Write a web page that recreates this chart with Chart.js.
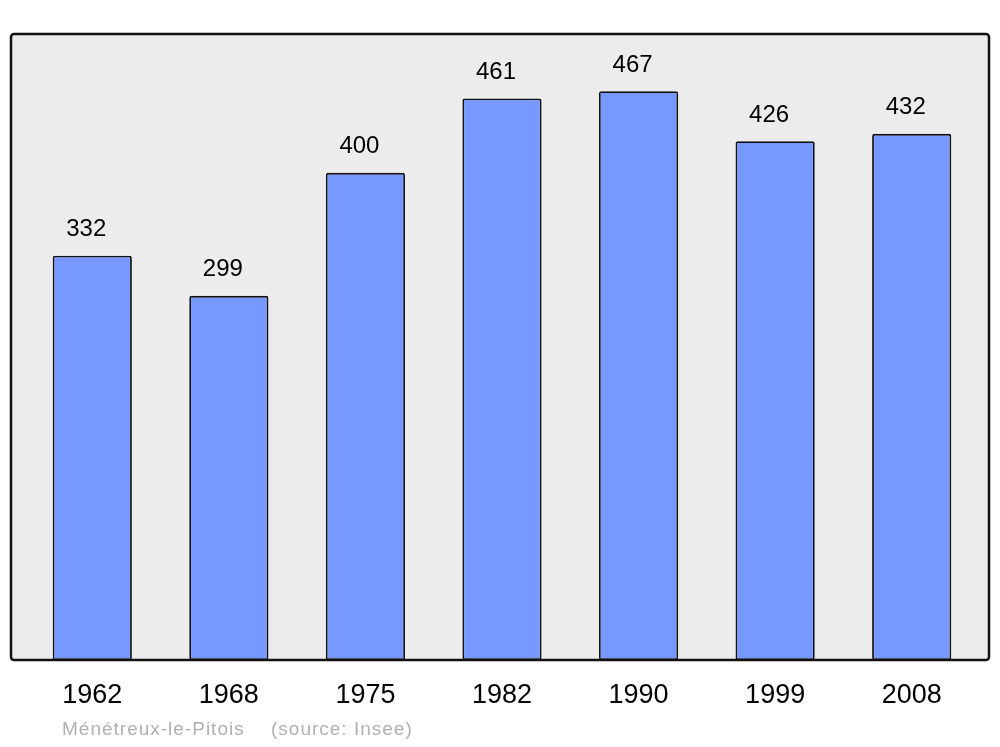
<!DOCTYPE html>
<html>
<head>
<meta charset="utf-8">
<script src="https://cdn.jsdelivr.net/npm/chart.js@4/dist/chart.umd.min.js"></script>
<style>
  html, body { margin: 0; padding: 0; background: #ffffff; }
  #wrap { width: 1000px; height: 747px; position: relative; }
</style>
</head>
<body>
<div id="wrap"><canvas id="popChart" width="1000" height="747"></canvas></div>
<script>
// population per census year
var years = ["1962", "1968", "1975", "1982", "1990", "1999", "2008"];
var population = [332, 299, 400, 461, 467, 426, 432];
var placeName = "Ménétreux-le-Pitois";
var sourceText = "(source: Insee)";

// grey box behind the bars
var boxPlugin = {
  id: "box",
  beforeDatasetsDraw: function (chart) {
    var ctx = chart.ctx;
    var a = chart.chartArea;
    var x0 = a.left - 13, x1 = a.right + 9;
    var y0 = a.top, y1 = a.bottom;
    ctx.save();
    ctx.beginPath();
    ctx.roundRect(x0, y0, x1 - x0, y1 - y0, 3);
    ctx.fillStyle = "#ececec";
    ctx.fill();
    ctx.lineWidth = 2.5;
    ctx.strokeStyle = "#111111";
    ctx.stroke();
    ctx.restore();
  }
};

// numbers above bars + footer text
var labelPlugin = {
  id: "labels",
  afterDatasetsDraw: function (chart) {
    var ctx = chart.ctx;
    var meta = chart.getDatasetMeta(0);
    ctx.save();
    ctx.font = "24px 'Liberation Sans', Arial, sans-serif";
    ctx.fillStyle = "#000000";
    ctx.textAlign = "center";
    ctx.textBaseline = "middle";
    for (var i = 0; i < meta.data.length; ++i) {
      var bar = meta.data[i];
      ctx.fillText(String(population[i]), bar.x - 6, bar.y - 26);
    }
    ctx.font = "19px 'Liberation Sans', Arial, sans-serif";
    ctx.letterSpacing = "1px";
    ctx.fillStyle = "#b0b0b0";
    ctx.textAlign = "left";
    ctx.fillText(placeName, 62, 730);
    ctx.fillText(sourceText, 271, 730);
    ctx.restore();
  }
};

var ctx = document.getElementById("popChart");
var popChart = new Chart(ctx, {
  type: "bar",
  data: {
    labels: years,
    datasets: [{
      data: population,
      backgroundColor: "#7799ff",
      borderColor: "#111111",
      borderWidth: 1.8,
      borderRadius: 2,
      borderSkipped: false,
      barPercentage: 0.58,
      categoryPercentage: 1.0
    }]
  },
  options: {
    responsive: false,
    animation: false,
    layout: { padding: { left: 24, right: 20, top: 34, bottom: 40 } },
    plugins: {
      legend: { display: false },
      tooltip: { enabled: false }
    },
    scales: {
      x: {
        grid: { display: false, drawTicks: false },
        border: { display: false },
        afterFit: function (scale) { scale.height = 47; },
        ticks: {
          color: "#000000",
          padding: 19,
          font: { family: "'Liberation Sans', Arial, sans-serif", size: 27 }
        }
      },
      y: {
        display: false,
        min: 0,
        max: 514
      }
    }
  },
  plugins: [boxPlugin, labelPlugin]
});
</script>
</body>
</html>
